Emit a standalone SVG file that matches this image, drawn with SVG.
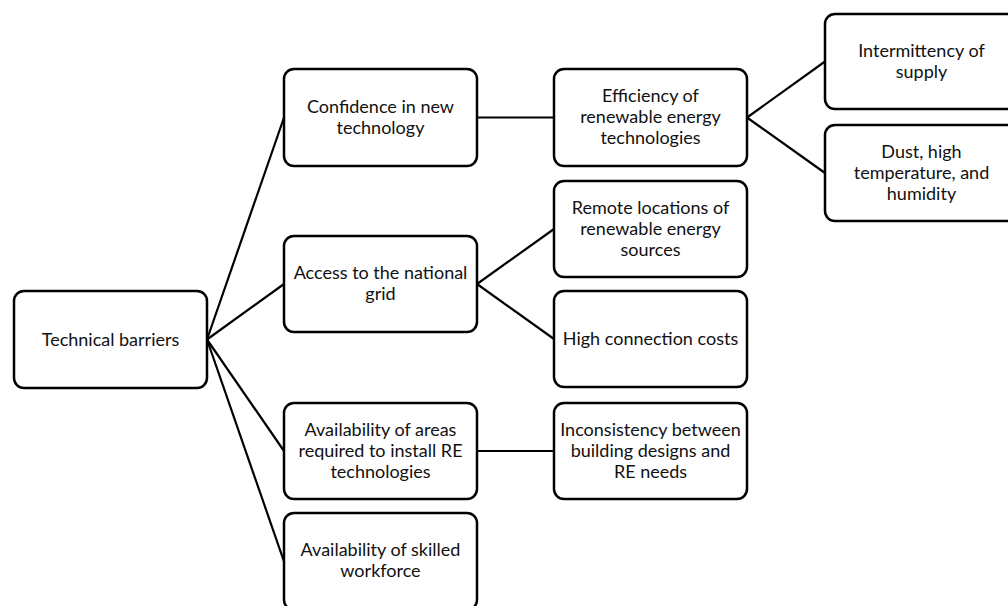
<svg xmlns="http://www.w3.org/2000/svg" width="1008" height="606" viewBox="0 0 1008 606">
<style>
.box{fill:#fff;stroke:#000;stroke-width:2.5}
.lbl{font-family:Lato,"Open Sans","Liberation Sans",sans-serif;font-size:18px;fill:#111;text-anchor:middle}
.conn line{stroke:#000;stroke-width:2.2}
</style>
<rect width="1008" height="606" fill="#fff"/>
<g class="conn" id="connectors">
<line x1="207" y1="339.5" x2="284" y2="117.5"/>
<line x1="207" y1="339.5" x2="284" y2="284"/>
<line x1="207" y1="339.5" x2="284" y2="451"/>
<line x1="207" y1="339.5" x2="284" y2="561.5"/>
<line x1="477" y1="117.5" x2="554" y2="117.5"/>
<line x1="747" y1="117.5" x2="825" y2="61.5"/>
<line x1="747" y1="117.5" x2="825" y2="173"/>
<line x1="477" y1="284" x2="554" y2="229"/>
<line x1="477" y1="284" x2="554" y2="339"/>
<line x1="477" y1="451" x2="554" y2="451"/>
</g>
<g id="root">
<rect class="box" x="14" y="291" width="193" height="97" rx="10"/>
<text class="lbl" x="110.5" y="345.5">Technical barriers</text>
</g>
<g id="confidence">
<rect class="box" x="284" y="69" width="193" height="97" rx="10"/>
<text class="lbl" x="380.5" y="113">Confidence in new</text>
<text class="lbl" x="380.5" y="134">technology</text>
</g>
<g id="access">
<rect class="box" x="284" y="236" width="193" height="96" rx="10"/>
<text class="lbl" x="380.5" y="279">Access to the national</text>
<text class="lbl" x="380.5" y="300">grid</text>
</g>
<g id="areas">
<rect class="box" x="284" y="403" width="193" height="96" rx="10"/>
<text class="lbl" x="380.5" y="436">Availability of areas</text>
<text class="lbl" x="380.5" y="457">required to install RE</text>
<text class="lbl" x="380.5" y="478">technologies</text>
</g>
<g id="skilled">
<rect class="box" x="284" y="513" width="193" height="97" rx="10"/>
<text class="lbl" x="380.5" y="556">Availability of skilled</text>
<text class="lbl" x="380.5" y="577">workforce</text>
</g>
<g id="efficiency">
<rect class="box" x="554" y="69" width="193" height="97" rx="10"/>
<text class="lbl" x="650.5" y="102">Efficiency of</text>
<text class="lbl" x="650.5" y="123">renewable energy</text>
<text class="lbl" x="650.5" y="144">technologies</text>
</g>
<g id="remote">
<rect class="box" x="554" y="181" width="193" height="96" rx="10"/>
<text class="lbl" x="650.5" y="214">Remote locations of</text>
<text class="lbl" x="650.5" y="235">renewable energy</text>
<text class="lbl" x="650.5" y="256">sources</text>
</g>
<g id="connection">
<rect class="box" x="554" y="291" width="193" height="96" rx="10"/>
<text class="lbl" x="650.5" y="345">High connection costs</text>
</g>
<g id="inconsistency">
<rect class="box" x="554" y="403" width="193" height="96" rx="10"/>
<text class="lbl" x="650.5" y="436">Inconsistency between</text>
<text class="lbl" x="650.5" y="457">building designs and</text>
<text class="lbl" x="650.5" y="478">RE needs</text>
</g>
<g id="intermittency">
<rect class="box" x="825" y="14" width="193" height="95" rx="10"/>
<text class="lbl" x="921.5" y="57">Intermittency of</text>
<text class="lbl" x="921.5" y="78">supply</text>
</g>
<g id="dust">
<rect class="box" x="825" y="125" width="193" height="96" rx="10"/>
<text class="lbl" x="921.5" y="158">Dust, high</text>
<text class="lbl" x="921.5" y="179">temperature, and</text>
<text class="lbl" x="921.5" y="200">humidity</text>
</g>
</svg>
